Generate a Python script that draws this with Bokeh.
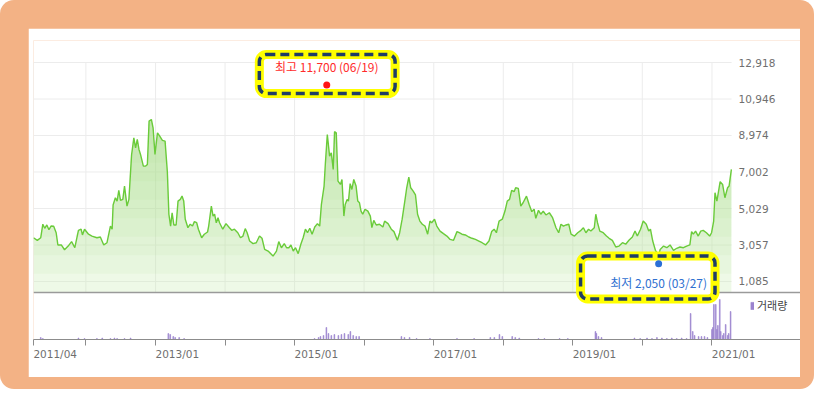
import numpy as np
import pandas as pd

from bokeh.plotting import figure
from bokeh.layouts import column
from bokeh.models import (Range1d, FixedTicker, DatetimeAxis, Legend, LegendItem)
from bokeh.core.properties import value
from bokeh.embed import file_html
from bokeh.resources import INLINE

# weekly-ish closing prices
price_dates = [
    "2011-04-01", "2011-04-21", "2011-05-09", "2011-05-20", "2011-05-30", "2011-06-10", "2011-06-21",
    "2011-07-02", "2011-07-16", "2011-07-29", "2011-08-07", "2011-08-25", "2011-09-11", "2011-09-30",
    "2011-10-18", "2011-11-04", "2011-11-23", "2011-12-07", "2011-12-14", "2011-12-25",
    "2012-01-15", "2012-02-02", "2012-02-28", "2012-03-17", "2012-04-04", "2012-04-21", "2012-05-09",
    "2012-05-18", "2012-05-23", "2012-06-04", "2012-06-13", "2012-06-22", "2012-07-01", "2012-07-13",
    "2012-07-22", "2012-08-04", "2012-08-14", "2012-08-28", "2012-09-09", "2012-09-18", "2012-09-27",
    "2012-10-06", "2012-10-14", "2012-10-29", "2012-11-10", "2012-11-19", "2012-11-28", "2012-12-10",
    "2012-12-19", "2012-12-29",
    "2013-01-11", "2013-01-23", "2013-02-06", "2013-02-20", "2013-03-04", "2013-03-12", "2013-03-21",
    "2013-03-29", "2013-04-07", "2013-04-19", "2013-04-29", "2013-05-11", "2013-05-20", "2013-05-29",
    "2013-06-06", "2013-06-20", "2013-07-02", "2013-07-14", "2013-07-24", "2013-08-05", "2013-08-14",
    "2013-08-31", "2013-09-14", "2013-10-01", "2013-10-07", "2013-10-21", "2013-10-30", "2013-11-07",
    "2013-11-16", "2013-11-25", "2013-12-03", "2013-12-20",
    "2014-01-06", "2014-01-24", "2014-02-05", "2014-02-19", "2014-03-09", "2014-03-23", "2014-04-05",
    "2014-04-17", "2014-04-27", "2014-05-10", "2014-05-28", "2014-06-14", "2014-07-01", "2014-07-14",
    "2014-07-28", "2014-08-15", "2014-09-10", "2014-09-28", "2014-10-10", "2014-10-24", "2014-11-08",
    "2014-11-20", "2014-12-02", "2014-12-13", "2014-12-25",
    "2015-01-06", "2015-01-20", "2015-02-03", "2015-02-15", "2015-02-27", "2015-03-10", "2015-03-22",
    "2015-04-03", "2015-04-17", "2015-05-01", "2015-05-13", "2015-05-22", "2015-06-05", "2015-06-12",
    "2015-06-22", "2015-07-04", "2015-07-13", "2015-07-23", "2015-07-30", "2015-08-08", "2015-08-17",
    "2015-08-30", "2015-09-07", "2015-09-17", "2015-09-24", "2015-10-04", "2015-10-11", "2015-10-20",
    "2015-10-29", "2015-11-08", "2015-11-20", "2015-11-29", "2015-12-08", "2015-12-16", "2015-12-25",
    "2016-01-06", "2016-01-21", "2016-02-03", "2016-02-11", "2016-02-21", "2016-03-05", "2016-03-22",
    "2016-04-09", "2016-04-18", "2016-05-06", "2016-05-23", "2016-06-06", "2016-06-24", "2016-07-06",
    "2016-07-19", "2016-08-02", "2016-08-12", "2016-08-23", "2016-09-02", "2016-09-15", "2016-09-27",
    "2016-10-08", "2016-10-20", "2016-11-02", "2016-11-16", "2016-11-30", "2016-12-12", "2016-12-21",
    "2017-01-05", "2017-01-17", "2017-02-03", "2017-02-21", "2017-03-11", "2017-03-28", "2017-04-15",
    "2017-05-03", "2017-05-15", "2017-05-29", "2017-06-16", "2017-07-04", "2017-07-21", "2017-08-08",
    "2017-08-26", "2017-09-12", "2017-09-30", "2017-10-18", "2017-11-01", "2017-11-14", "2017-11-26",
    "2017-12-10", "2017-12-27",
    "2018-01-10", "2018-01-22", "2018-02-03", "2018-02-14", "2018-02-27", "2018-03-07", "2018-03-21",
    "2018-04-03", "2018-04-15", "2018-05-03", "2018-05-17", "2018-05-31", "2018-06-12", "2018-06-21",
    "2018-07-05", "2018-07-17", "2018-07-30", "2018-08-13", "2018-08-31", "2018-09-17", "2018-10-05",
    "2018-10-19", "2018-10-31", "2018-11-13", "2018-11-27", "2018-12-11", "2018-12-23",
    "2019-01-10", "2019-01-27", "2019-02-13", "2019-02-26", "2019-03-11", "2019-03-25", "2019-04-06",
    "2019-04-24", "2019-05-02", "2019-05-11", "2019-05-23", "2019-06-10", "2019-06-27", "2019-07-11",
    "2019-07-28", "2019-08-15", "2019-09-01", "2019-09-19", "2019-10-06", "2019-10-23", "2019-11-10",
    "2019-11-24", "2019-12-06", "2019-12-23",
    "2020-01-06", "2020-01-22", "2020-02-04", "2020-02-13", "2020-02-25", "2020-03-10", "2020-03-18",
    "2020-03-27", "2020-04-04", "2020-04-22", "2020-05-09", "2020-05-26", "2020-06-13", "2020-06-30",
    "2020-07-17", "2020-08-04", "2020-08-21", "2020-09-07", "2020-09-16", "2020-09-25", "2020-10-07",
    "2020-10-21", "2020-11-03", "2020-11-16", "2020-12-03", "2020-12-20", "2020-12-30",
    "2021-01-10", "2021-01-17", "2021-01-27", "2021-02-13", "2021-02-26", "2021-03-10", "2021-03-24",
    "2021-04-01", "2021-04-13",
]
price_close = [
    3450, 3310, 3450, 4180, 3960, 4140, 3880, 4080, 4070, 3720, 3060, 3060, 2800, 3000,
    3240, 2910, 3850, 3910, 3600, 3910,
    3640, 3540, 3450, 3490, 3060, 3180, 4080, 3910, 5220, 5610, 5430, 6010, 5470, 5520,
    6240, 5160, 5520, 7920, 8850, 8310, 8760, 8220, 7950, 7320, 7320, 7410, 9750, 9840,
    9390, 7950,
    9120, 8940, 8710, 8670, 7000, 4720, 4080, 4800, 4140, 4140, 5430, 5520, 5700, 5430,
    4450, 3990, 4180, 4080, 4320, 4260, 3910, 3450, 3640, 3760, 4080, 5160, 4620, 4720,
    4260, 4530, 4260, 3910,
    4210, 3990, 3850, 3910, 3720, 3450, 3540, 3940, 3720, 3270, 3130, 3180, 3540, 3420,
    2820, 2730, 2460, 2730, 3240, 2910, 3130, 2910, 2910, 3060, 2730,
    2910, 2590, 3100, 3450, 3910, 3720, 3960, 3640, 4030, 4210, 4080, 5250, 6240, 7500,
    9030, 7860, 8040, 7140, 9180, 9120, 6510, 6330, 6600, 4620, 5250, 5520, 5430, 6370,
    6060, 6600, 6240, 5430, 5340, 4890, 4720,
    4990, 4890, 4620, 4000, 4390, 4140, 4180, 4030, 4350, 4210, 3910, 3780, 3310, 3720,
    4450, 5430, 6150, 6730, 6150, 5970, 5760, 4720, 4350, 4180, 4080, 3640, 4350, 4260,
    4450, 4080, 3810, 3670, 3540, 3360, 3310, 3780, 3720, 3640, 3600, 3490, 3420, 3360,
    3270, 3180, 3060, 3270, 3780, 3910, 3720, 4350, 4450,
    4890, 5430, 5520, 6010, 5940, 6150, 6120, 5160, 5340, 5700, 5250, 4860, 4990, 4500,
    4930, 4720, 4890, 4680, 4800, 4530, 3990, 3720, 4180, 4080, 4140, 4180, 3640,
    3540, 3720, 3850, 3990, 3720, 3910, 3810, 3990, 4720, 4260, 3810, 3720, 3540, 3420,
    3310, 2950, 3000, 3180, 3100, 3310, 3490, 3810, 3540, 3910,
    4350, 4180, 3810, 3910, 3270, 2770, 2640, 2450, 2820, 3000, 2910, 3060, 2770, 2880,
    2950, 2910, 3000, 3060, 3780, 3640, 3810, 3540, 3810, 3850, 3720, 3540, 3720,
    4350, 5880, 5430, 6480, 6330, 5610, 6150, 6240, 7140,
]

# traded volume (thousand shares)
vol_dates = [
    "2011-05-09", "2011-05-20", "2011-11-23", "2011-12-25", "2012-02-28", "2012-03-27", "2012-05-09",
    "2012-05-30", "2012-06-13", "2012-07-22", "2012-08-23", "2013-03-09", "2013-03-19", "2013-04-04",
    "2013-04-14", "2013-05-05", "2013-05-31", "2015-04-16", "2015-05-07", "2015-05-17", "2015-06-02",
    "2015-06-17", "2015-06-28", "2015-07-13", "2015-07-29", "2015-08-19", "2015-09-04", "2015-09-20",
    "2015-10-10", "2015-10-21", "2015-11-05", "2015-11-21", "2015-12-06", "2016-07-15", "2016-07-31",
    "2016-08-27", "2016-10-03", "2016-12-12", "2017-05-03", "2017-08-01", "2017-10-25", "2017-11-15",
    "2017-12-12", "2017-12-27", "2018-02-17", "2018-03-05", "2018-03-26", "2018-07-05", "2018-08-05",
    "2018-10-24", "2018-12-06", "2019-04-30", "2019-05-05", "2019-05-16", "2019-06-01", "2019-11-21",
    "2019-12-21", "2020-01-26", "2020-02-21", "2020-03-18", "2020-04-13", "2020-05-09", "2020-06-04",
    "2020-06-30", "2020-07-26", "2020-08-21", "2020-09-11", "2020-09-22", "2020-10-02", "2020-10-23",
    "2020-11-07", "2020-11-23", "2020-12-08", "2021-01-01", "2021-01-06", "2021-01-11", "2021-01-21",
    "2021-01-27", "2021-02-01", "2021-02-11", "2021-02-16", "2021-02-27", "2021-03-04", "2021-03-14",
    "2021-03-25", "2021-03-30", "2021-04-09",
]
vol_amount = [
    100, 50, 75, 50, 50, 75, 50, 75, 50, 50, 75, 300, 250, 150,
    100, 100, 50, 50, 100, 150, 200, 600, 300, 200, 250, 200, 250, 300,
    250, 400, 200, 150, 150, 150, 100, 100, 50, 50, 50, 50, 100, 100,
    250, 150, 150, 100, 75, 50, 50, 50, 50, 400, 300, 150, 100, 75,
    50, 75, 50, 100, 75, 50, 75, 50, 75, 50, 1300, 400, 200, 150,
    150, 150, 100, 500, 600, 1750, 1750, 500, 700, 2000, 400, 200, 300, 750,
    200, 300, 1400,
]

price_ticks = [1085, 3057, 5029, 7002, 8974, 10946, 12918]
year_ticks = ["2011-04-01", "2012-01-01", "2013-01-01", "2014-01-01", "2015-01-01", "2016-01-01",
              "2017-01-01", "2018-01-01", "2019-01-01", "2020-01-01", "2021-01-01"]
year_labels = ["2011/04", "", "2013/01", "", "2015/01", "", "2017/01", "", "2019/01", "", "2021/01"]

high_date, high_price, high_label = "2015-06-19", 11700, "최고 11,700 (06/19)"
low_date, low_price, low_label = "2020-03-27", 2050, "최저 2,050 (03/27)"

# callout frames (data coords) around the high / low markers
high_box = ("2014-06-30", "2016-06-12", 13350, 11240)
low_box = ("2019-02-11", "2021-01-17", 2460, 140)

data_start = "2011-04-01"
data_end = "2021-04-14"     # right edge of the price pane
view_end = "2022-04-11"     # right edge of the white panel
panel_floor = 490           # price value where the price pane ends
label_shift = pd.Timedelta(days=114)   # date labels start at their tick

line_green = "#6acb3a"
vol_purple = "#9b83cf"
grid_grey = "#ececec"
label_grey = "#6f6f6f"
axis_font = "DejaVu Sans"
kr_font = "Noto Sans CJK KR"


def ts(s):
    return pd.to_datetime(s)


def to_ms(stamps):
    return [int(t.value // 10**6) for t in stamps]


def make_plot():
    dates = ts(price_dates)
    close = np.array(price_close, dtype=float)

    p = figure(width=772, height=349,
               x_axis_type="datetime", y_axis_location=None,
               x_range=Range1d(ts(data_start), ts(view_end)),
               y_range=Range1d(-2049, 14107),
               toolbar_location=None, output_backend="svg",
               min_border_left=5, min_border_right=0,
               min_border_top=12, min_border_bottom=38)
    p.extra_y_ranges = {"vol": Range1d(0, 14950)}
    p.outline_line_color = None
    p.background_fill_color = "white"
    p.border_fill_color = "white"
    p.grid.visible = False

    # grid of the price pane
    n = len(price_ticks)
    p.segment(x0=[ts(data_start)] * n, x1=[ts(data_end)] * n, y0=price_ticks, y1=price_ticks,
              line_color=grid_grey, line_width=1)
    m = len(year_ticks)
    p.segment(x0=ts(year_ticks), x1=ts(year_ticks), y0=[panel_floor] * m,
              y1=[price_ticks[-1]] * m, line_color=grid_grey, line_width=1)

    # price labels on the right of the pane
    p.text(x=[ts(data_end)] * n, y=price_ticks, text=[f"{v:,}" for v in price_ticks],
           x_offset=7, text_align="left", text_baseline="middle",
           text_font=value(axis_font), text_font_size="10.5px", text_color=label_grey)

    # gradient-like area under the price
    p.varea(x=dates, y1=panel_floor, y2=close, fill_color="#c6ecae", fill_alpha=0.3)
    for lvl in range(1500, 10001, 1000):
        p.varea(x=dates, y1=lvl, y2=np.maximum(close, lvl),
                fill_color="#a9e08a", fill_alpha=0.09)
    p.line(x=dates, y=close, line_color=line_green, line_width=1.4)

    p.hspan(y=[panel_floor], line_color="#9a9a9a", line_width=1.5)

    vol_r = p.vbar(x=ts(vol_dates), top=vol_amount, width=pd.Timedelta(days=4),
                   y_range_name="vol", fill_color=vol_purple, line_color=vol_purple,
                   line_width=0.6)

    # callouts
    for (l, r, t, b) in (high_box, low_box):
        p.quad(left=[ts(l)], right=[ts(r)], top=[t], bottom=[b],
               fill_color="white", line_color="#ffff00", line_width=9, border_radius=7)
        p.quad(left=[ts(l)], right=[ts(r)], top=[t], bottom=[b],
               fill_color=None, line_color="#1f3d66", line_width=3.5,
               line_dash="9 5", border_radius=7)

    p.scatter(x=[ts(high_date)], y=[high_price], size=7, fill_color="#ff1414", line_color=None)
    p.text(x=[ts(high_date)], y=[high_price], text=[high_label], y_offset=-10,
           text_align="center", text_baseline="bottom", text_color="#ff2b2b",
           text_font=value(kr_font), text_font_size="12px")
    p.scatter(x=[ts(low_date)], y=[low_price], size=7, fill_color="#2a6fd8", line_color=None)
    p.text(x=[ts(low_date)], y=[low_price], text=[low_label], y_offset=10,
           text_align="center", text_baseline="top", text_color="#2f70d0",
           text_font=value(kr_font), text_font_size="12px")

    # bottom axis: line and tick marks, no labels
    tick_ms = to_ms(ts(year_ticks))
    xa = p.xaxis[0]
    xa.ticker = FixedTicker(ticks=tick_ms)
    xa.major_label_overrides = {t: "" for t in tick_ms}
    xa.axis_line_color = "#8c8c8c"
    xa.major_tick_line_color = "#8c8c8c"
    xa.major_tick_out = 6
    xa.major_tick_in = 0
    xa.minor_tick_line_color = None
    xa.major_label_standoff = 0
    xa.major_label_text_font_size = "1px"

    # second axis carries the date labels, each one starting at its tick
    lab_ms = to_ms([t + label_shift for t in ts(year_ticks)])
    xl = DatetimeAxis(ticker=FixedTicker(ticks=lab_ms),
                      major_label_overrides=dict(zip(lab_ms, year_labels)),
                      axis_line_color=None, major_tick_line_color=None,
                      minor_tick_line_color=None, major_tick_out=0, major_tick_in=0,
                      major_label_standoff=2, major_label_text_font=axis_font,
                      major_label_text_font_size="10.5px",
                      major_label_text_color=label_grey)
    p.add_layout(xl, "below")

    legend = Legend(items=[LegendItem(label="거래량", renderers=[vol_r])],
                    location=(717, 26), glyph_width=4, glyph_height=9,
                    label_height=12, label_standoff=3, padding=0, margin=0, spacing=0,
                    label_text_font=kr_font, label_text_font_size="11px",
                    label_text_color="#444444",
                    background_fill_alpha=0, border_line_color=None)
    p.add_layout(legend)
    return p


if __name__ == "__main__":
    p = make_plot()
    page = column(p, styles={"background-color": "#f3b285", "border-radius": "14px",
                             "padding": "28px 14px 12px 28px"})
    open("out.html", "w").write(file_html(page, INLINE, "chart"))
